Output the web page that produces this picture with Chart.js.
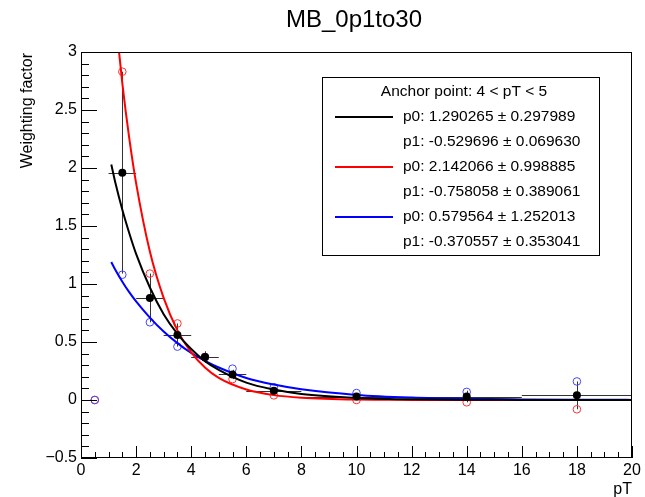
<!DOCTYPE html>
<html>
<head>
<meta charset="utf-8">
<script src="https://cdn.jsdelivr.net/npm/chart.js@4"></script>
<style>
  html, body { margin: 0; padding: 0; background: #fff; }
  #wrap { width: 645px; height: 497px; }
</style>
</head>
<body>
<div id="wrap"><canvas id="myChart" width="645" height="497"></canvas></div>
<script>
// bins of pT (centres and half widths)
const binCenters = [1.5, 2.5, 3.5, 4.5, 5.5, 7, 10, 14, 18];
const binHalfWidths = [0.5, 0.5, 0.5, 0.5, 0.5, 1, 2, 2, 2];
// black: weighting factor with its error
const weightMB = [1.96, 0.88, 0.56, 0.37, 0.22, 0.08, 0.03, 0.03, 0.04];
const weightErr = [0.87, 0.21, 0.10, 0.05, 0.04, 0.03, 0.03, 0.05, 0.12];
// open circles (red / blue variations), first point at pT = 0.5
const variedX = [0.5, 1.5, 2.5, 3.5, 4.5, 5.5, 7, 10, 14, 18];
const weightRed = [0, 2.83, 1.09, 0.66, 0.37, 0.18, 0.04, 0.0, -0.02, -0.08];
const weightBlue = [0, 1.08, 0.67, 0.46, 0.37, 0.27, 0.11, 0.06, 0.07, 0.16];
// fitted curves
const fitX = [1.1, 1.25, 1.5, 1.75, 2, 2.5, 3, 3.5, 4, 4.5, 5, 6, 7, 8, 10, 12, 14, 16, 18, 20];
const fitBlack = [2.03, 1.87, 1.64, 1.44, 1.26, 0.97, 0.74, 0.57, 0.44, 0.335, 0.26, 0.15, 0.09, 0.052, 0.018, 0.006, 0.002, 0.001, 0.0, 0.0];
const fitRed = [3.70, 3.30, 2.73, 2.26, 1.87, 1.28, 0.88, 0.60, 0.41, 0.28, 0.19, 0.09, 0.042, 0.02, 0.004, 0.001, 0.0, 0.0, 0.0, 0.0];
const fitBlue = [1.19, 1.12, 1.02, 0.93, 0.85, 0.71, 0.59, 0.49, 0.405, 0.337, 0.28, 0.19, 0.133, 0.092, 0.044, 0.021, 0.01, 0.005, 0.002, 0.001];

const legendHeader = 'Anchor point: 4 < pT < 5';
const legendRows = [
    { color: '#000000', text: 'p0: 1.290265 \u00b1 0.297989' },
    { color: null, text: 'p1: -0.529696 \u00b1 0.069630' },
    { color: '#ff0000', text: 'p0: 2.142066 \u00b1 0.998885' },
    { color: null, text: 'p1: -0.758058 \u00b1 0.389061' },
    { color: '#0000ff', text: 'p0: 0.579564 \u00b1 1.252013' },
    { color: null, text: 'p1: -0.370557 \u00b1 0.353041' }
];

const FONT = '"Liberation Sans", Arial, Helvetica, sans-serif';

function pts(xs, ys) {
    return xs.map((x, i) => ({ x: x, y: ys[i] }));
}

// ROOT-like frame, ticks, error bars, titles and the fit legend
const rootStyle = {
    id: 'rootStyle',
    beforeDatasetsDraw(chart) {
        const ctx = chart.ctx;
        const xs = chart.scales.x, ys = chart.scales.y;
        const a = chart.chartArea;
        ctx.save();
        ctx.beginPath();
        ctx.rect(a.left, a.top, a.right - a.left, a.bottom - a.top);
        ctx.clip();
        ctx.strokeStyle = 'rgba(0,0,0,0.8)';
        ctx.lineWidth = 1;
        binCenters.forEach((x, i) => {
            const px = Math.round(xs.getPixelForValue(x)) + 0.5;
            const py = Math.round(ys.getPixelForValue(weightMB[i])) + 0.5;
            ctx.beginPath();
            ctx.moveTo(xs.getPixelForValue(x - binHalfWidths[i]), py);
            ctx.lineTo(xs.getPixelForValue(x + binHalfWidths[i]), py);
            ctx.moveTo(px, ys.getPixelForValue(weightMB[i] + weightErr[i]));
            ctx.lineTo(px, ys.getPixelForValue(weightMB[i] - weightErr[i]));
            ctx.stroke();
        });
        ctx.restore();
    },
    afterDraw(chart) {
        const ctx = chart.ctx;
        const xs = chart.scales.x, ys = chart.scales.y;
        const a = chart.chartArea;
        ctx.save();
        ctx.strokeStyle = '#000';
        ctx.lineWidth = 1;
        ctx.strokeRect(a.left + 0.5, a.top + 0.5, a.right - a.left - 1, a.bottom - a.top - 1);
        ctx.beginPath();
        for (let k = -5; k <= 30; k++) {
            const py = Math.round(ys.getPixelForValue(k / 10)) + 0.5;
            const len = (k % 5 === 0) ? 16 : 8;
            ctx.moveTo(a.left, py);
            ctx.lineTo(a.left + len, py);
        }
        for (let k = 0; k <= 40; k++) {
            const px = Math.round(xs.getPixelForValue(k / 2)) + 0.5;
            const len = (k % 4 === 0) ? 12 : 6;
            ctx.moveTo(px, a.bottom);
            ctx.lineTo(px, a.bottom - len);
        }
        ctx.stroke();

        // titles
        ctx.fillStyle = '#000';
        ctx.font = '24px ' + FONT;
        ctx.textAlign = 'center';
        ctx.textBaseline = 'alphabetic';
        ctx.fillText('MB_0p1to30', 354, 27);

        ctx.font = '16px ' + FONT;
        ctx.textAlign = 'right';
        ctx.fillText('pT', 632, 494);

        ctx.save();
        ctx.translate(32, 53);
        ctx.rotate(-Math.PI / 2);
        ctx.textAlign = 'right';
        ctx.fillText('Weighting factor', 0, 0);
        ctx.restore();

        // legend box
        ctx.fillStyle = '#fff';
        ctx.fillRect(322, 77, 277, 178);
        ctx.strokeRect(322.5, 77.5, 277, 178);
        ctx.fillStyle = '#000';
        ctx.font = '15.5px ' + FONT;
        ctx.textAlign = 'center';
        ctx.textBaseline = 'middle';
        ctx.fillText(legendHeader, 464, 92);
        ctx.textAlign = 'left';
        legendRows.forEach((r, i) => {
            const y = 117 + i * 25;
            if (r.color) {
                ctx.strokeStyle = r.color;
                ctx.lineWidth = 2;
                ctx.beginPath();
                ctx.moveTo(335, y);
                ctx.lineTo(393, y);
                ctx.stroke();
            }
            ctx.fillText(r.text, 403, y);
        });
        ctx.restore();
    }
};

const curve = (data, color) => ({
    type: 'line',
    data: data,
    showLine: true,
    borderColor: color,
    borderWidth: 2,
    pointRadius: 0,
    cubicInterpolationMode: 'monotone',
    fill: false,
    order: 1
});

const openCircles = (data, color, order) => ({
    data: data,
    showLine: false,
    pointStyle: 'circle',
    pointRadius: 3.8,
    pointBorderWidth: 1,
    pointBorderColor: color,
    pointBackgroundColor: 'rgba(0,0,0,0)',
    order: order
});

let chart = {
    type: 'scatter',
    data: {
        datasets: [
            {
                data: pts(binCenters, weightMB),
                pointRadius: 4,
                pointBorderWidth: 0,
                pointBackgroundColor: '#000',
                order: 0
            },
            curve(pts(fitX, fitBlack), '#000000'),
            curve(pts(fitX, fitRed), '#ff0000'),
            curve(pts(fitX, fitBlue), '#0000ff'),
            openCircles(pts(variedX, weightRed), '#ff3333', 3),
            openCircles(pts(variedX, weightBlue), '#4444ff', 2)
        ]
    },
    options: {
        responsive: false,
        animation: false,
        layout: { padding: { top: 52, right: 13, left: 0, bottom: 0 } },
        plugins: { legend: { display: false }, tooltip: { enabled: false } },
        scales: {
            x: {
                type: 'linear',
                min: 0,
                max: 20,
                grid: { display: false, drawTicks: false },
                border: { display: false },
                afterFit(s) { s.height = 39; },
                ticks: {
                    stepSize: 2,
                    autoSkip: false,
                    maxRotation: 0,
                    padding: 3,
                    color: '#000',
                    font: { family: FONT, size: 16 }
                }
            },
            y: {
                type: 'linear',
                min: -0.5,
                max: 3,
                grid: { display: false, drawTicks: false },
                border: { display: false },
                afterFit(s) { s.width = 81; },
                ticks: {
                    stepSize: 0.5,
                    autoSkip: false,
                    padding: 4,
                    color: '#000',
                    font: { family: FONT, size: 16 },
                    callback: (v) => v < 0 ? '\u2212' + Math.abs(v) : String(v)
                }
            }
        }
    },
    plugins: [rootStyle]
};

const ctx = document.getElementById('myChart').getContext('2d');
const myChart = new Chart(ctx, chart);
</script>
</body>
</html>
